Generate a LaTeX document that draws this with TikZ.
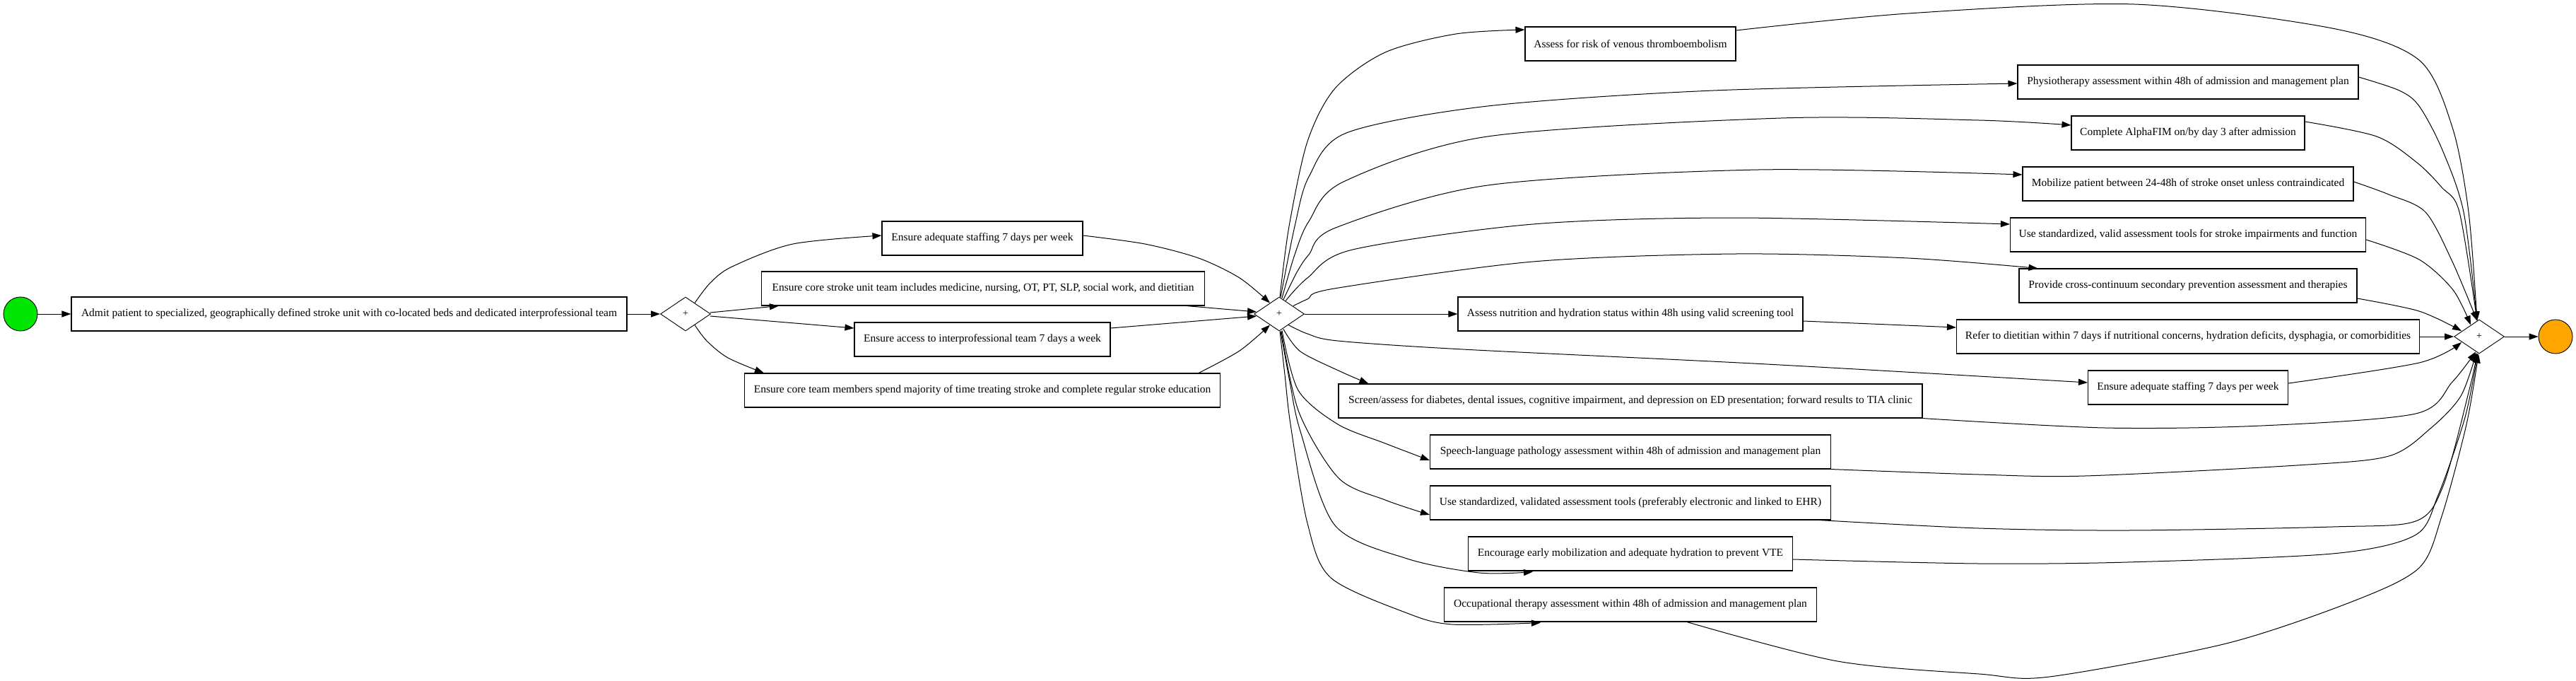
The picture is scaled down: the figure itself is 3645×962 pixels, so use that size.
\documentclass[tikz,border=0pt]{standalone}
\usepackage{fontspec}
\setmainfont{Liberation Serif}
\usetikzlibrary{shapes.geometric,arrows.meta,calc}
\definecolor{startgreen}{RGB}{0,230,0}
\definecolor{endorange}{RGB}{255,165,0}
\tikzset{
  task/.style={draw, line width=1.1pt, minimum height=48pt, inner sep=0pt, fill=white, font=\fontsize{15.5}{17}\selectfont},
  gate/.style={diamond, draw, line width=0.9pt, minimum width=71pt, minimum height=48pt, inner sep=0pt, fill=white, font=\fontsize{14}{15}\selectfont},
  evt/.style={circle, draw, line width=0.9pt, minimum size=48pt, inner sep=0pt},
  flow/.style={line width=1pt, -{Triangle[length=13pt,width=9pt]}},
  sm/.style={smooth, tension=0.5}
}
\begin{document}
\begin{tikzpicture}[x=1pt,y=-1pt]
\useasboundingbox (0,0) rectangle (3645,962);
% nodes
\node[evt, fill=startgreen] (start) at (29,444) {};
\node[task, minimum width=786pt] (admit) at (494,444) {Admit patient to specialized, geographically defined stroke unit with co-located beds and dedicated interprofessional team};
\node[gate] (d1) at (970,444) {+};
\node[task, minimum width=284pt] (s1) at (1390,337) {Ensure adequate staffing 7 days per week};
\node[task, minimum width=627pt] (core) at (1391,408) {Ensure core stroke unit team includes medicine, nursing, OT, PT, SLP, social work, and dietitian};
\node[task, minimum width=362pt] (access) at (1390,480) {Ensure access to interprofessional team 7 days a week};
\node[task, minimum width=673pt] (members) at (1390,552) {Ensure core team members spend majority of time treating stroke and complete regular stroke education};
\node[gate] (d2) at (1810,444) {+};
\node[task, minimum width=298pt] (vte) at (2307,62) {Assess for risk of venous thromboembolism};
\node[task, minimum width=488pt] (nutri) at (2307,444) {Assess nutrition and hydration status within 48h using valid screening tool};
\node[task, minimum width=826pt] (screen) at (2307,567) {Screen/assess for diabetes, dental issues, cognitive impairment, and depression on ED presentation; forward results to TIA clinic};
\node[task, minimum width=567pt] (speech) at (2307,639) {Speech-language pathology assessment within 48h of admission and management plan};
\node[task, minimum width=567pt] (ehr) at (2307,711) {Use standardized, validated assessment tools (preferably electronic and linked to EHR)};
\node[task, minimum width=459pt] (encour) at (2307,783) {Encourage early mobilization and adequate hydration to prevent VTE};
\node[task, minimum width=527pt] (occ) at (2307,855) {Occupational therapy assessment within 48h of admission and management plan};
\node[task, minimum width=482pt] (physio) at (3096,116) {Physiotherapy assessment within 48h of admission and management plan};
\node[task, minimum width=330pt] (alpha) at (3096,188) {Complete AlphaFIM on/by day 3 after admission};
\node[task, minimum width=468pt] (mobil) at (3096,260) {Mobilize patient between 24-48h of stroke onset unless contraindicated};
\node[task, minimum width=503pt] (usestd) at (3096,332) {Use standardized, valid assessment tools for stroke impairments and function};
\node[task, minimum width=478pt] (provide) at (3096,404) {Provide cross-continuum secondary prevention assessment and therapies};
\node[task, minimum width=655pt] (refer) at (3096,476) {Refer to dietitian within 7 days if nutritional concerns, hydration deficits, dysphagia, or comorbidities};
\node[task, minimum width=283pt] (s2) at (3096,548) {Ensure adequate staffing 7 days per week};
\node[gate] (d3) at (3508,476) {+};
\node[evt, fill=endorange] (end) at (3616,476) {};
% left part
\draw[flow] (start) -- (admit);
\draw[flow] (admit) -- (d1);
\draw[flow] plot[sm] coordinates {($(d1.north)+(13,9)$) (1005,400) (1036,377) (1122,345) ($(s1.west)+(0,-4)$)};
\draw[flow] ($(d1.east)+(-1,-2)$) -- ($(core.south west)+(25,0)$);
\draw[flow] ($(d1.east)+(-1,3)$) -- ($(access.west)+(0,-16)$);
\draw[flow] plot[sm] coordinates {($(d1.south)+(13,-9)$) (1000,482) (1030,506) ($(members.north west)+(28,0)$)};
\draw[flow] plot[sm] coordinates {($(s1.east)+(0,-4)$) (1620,345) (1696,365) (1754,393) ($(d2.north)+(-13,9)$)};
\draw[flow] ($(core.south east)+(-26,0)$) -- ($(d2.west)+(4,-3)$);
\draw[flow] ($(access.east)+(0,-16)$) -- ($(d2.west)+(4,3)$);
\draw[flow] plot[sm] coordinates {($(members.north east)+(-31,0)$) (1754,496) ($(d2.south)+(-13,-9)$)};
% fan-out from d2
\draw[flow] plot[sm] coordinates {($(d2.north)+(1,0)$) (1824,320) (1850,200) (1889,125) (1960,74) (2060,48) ($(vte.west)+(0,-20)$)};
\draw[flow] plot[sm] coordinates {($(d2.north)+(2,1)$) (1832,320) (1852,250) (1905,188) (2105,150) (2424,128) ($(physio.west)+(0,2)$)};
\draw[flow] plot[sm] coordinates {($(d2.north)+(4,2)$) (1832,360) (1852,313) (1901,257) (2105,193) (2520,167) (2800,170) ($(alpha.west)+(0,-11)$)};
\draw[flow] plot[sm] coordinates {($(d2.north)+(6,4)$) (1835,385) (1852,360) (1890,322) (2105,262) (2488,240) ($(mobil.west)+(0,-13)$)};
\draw[flow] plot[sm] coordinates {($(d2.north)+(9,6)$) (1850,393) (1914,353) (2169,317) (2456,308) ($(usestd.west)+(0,-15)$)};
\draw[flow] plot[sm] coordinates {($(d2.north)+(20,13)$) (1850,423) (1888,408) (2169,370) (2456,359) (2700,365) ($(provide.north west)+(27,0)$)};
\draw[flow] (d2.east) -- (nutri.west);
\draw[flow] plot[sm] coordinates {($(d2.south)+(13,-9)$) (1850,472) (1893,482) (2070,494) (2500,515) ($(s2.west)+(0,-7)$)};
\draw[flow] plot[sm] coordinates {($(d2.south)+(6,-3)$) (1840,497) (1896,525) ($(screen.north west)+(43,0)$)};
\draw[flow] plot[sm] coordinates {($(d2.south)+(4,-1)$) (1837,552) (1893,600) (1960,627) ($(speech.west)+(0,12)$)};
\draw[flow] plot[sm] coordinates {($(d2.south)+(3,0)$) (1838,583) (1894,676) (1960,707) ($(ehr.west)+(0,17)$)};
\draw[flow] plot[sm] coordinates {($(d2.south)+(2,0)$) (1825,540) (1840,610) (1889,743) (1991,790) (2093,810) ($(encour.south west)+(92,1)$)};
\draw[flow] plot[sm] coordinates {($(d2.south)+(1,0)$) (1818,530) (1826,600) (1850,740) (1883,817) (1991,867) (2055,883) ($(occ.south west)+(137,1)$)};
\draw[flow] ($(nutri.east)+(0,10)$) -- ($(refer.west)+(0,-13)$);
% fan-in to d3
\draw[flow] plot[sm] coordinates {($(vte.east)+(0,-19)$) (2700,19) (3020,6) (3300,40) (3423,85) (3470,180) (3493,300) ($(d3.north)+(-3,2)$)};
\draw[flow] plot[sm] coordinates {($(physio.east)+(0,-7)$) (3395,128) (3423,150) (3455,210) (3486,300) ($(d3.north)+(-3,2)$)};
\draw[flow] plot[sm] coordinates {($(alpha.east)+(0,-16)$) (3363,193) (3420,230) (3455,265) (3480,300) ($(d3.north)+(-3,2)$)};
\draw[flow] plot[sm] coordinates {($(mobil.east)+(0,-3)$) (3380,275) (3432,300) (3470,370) ($(d3.north)+(-3,2)$)};
\draw[flow] plot[sm] coordinates {($(usestd.east)+(0,7)$) (3423,367) (3471,410) ($(d3.north)+(-12,8)$)};
\draw[flow] plot[sm] coordinates {($(provide.east)+(0,18)$) (3423,440) ($(d3.west)+(11,-8)$)};
\draw[flow] (refer.east) -- (d3.west);
\draw[flow] plot[sm] coordinates {($(s2.east)+(0,-6)$) (3423,513) ($(d3.west)+(11,8)$)};
\draw[flow] plot[sm] coordinates {(screen.south east) (2978,605) (3200,602) (3418,585) (3470,540) ($(d3.south)+(-5,-3)$)};
\draw[flow] plot[sm] coordinates {(speech.south east) (2800,671) (2950,673) (3250,658) (3380,645) (3440,605) (3482,560) ($(d3.south)+(-4,-2)$)};
\draw[flow] plot[sm] coordinates {($(ehr.south east)+(-16,0)$) (2800,747) (3010,750) (3300,745) (3418,737) (3457,687) (3495,547) ($(d3.south)+(-3,-1)$)};
\draw[flow] plot[sm] coordinates {($(encour.east)+(0,8)$) (2800,797) (3010,795) (3300,783) (3417,757) (3450,700) (3488,590) ($(d3.south)+(-2,-1)$)};
\draw[flow] plot[sm] coordinates {($(occ.south)+(80,0)$) (2600,935) (2800,953) (2900,957) (3150,910) (3330,850) (3423,803) (3455,730) (3490,600) ($(d3.south)+(-1,0)$)};
\draw[flow] (d3.east) -- (end);
\end{tikzpicture}
\end{document}
